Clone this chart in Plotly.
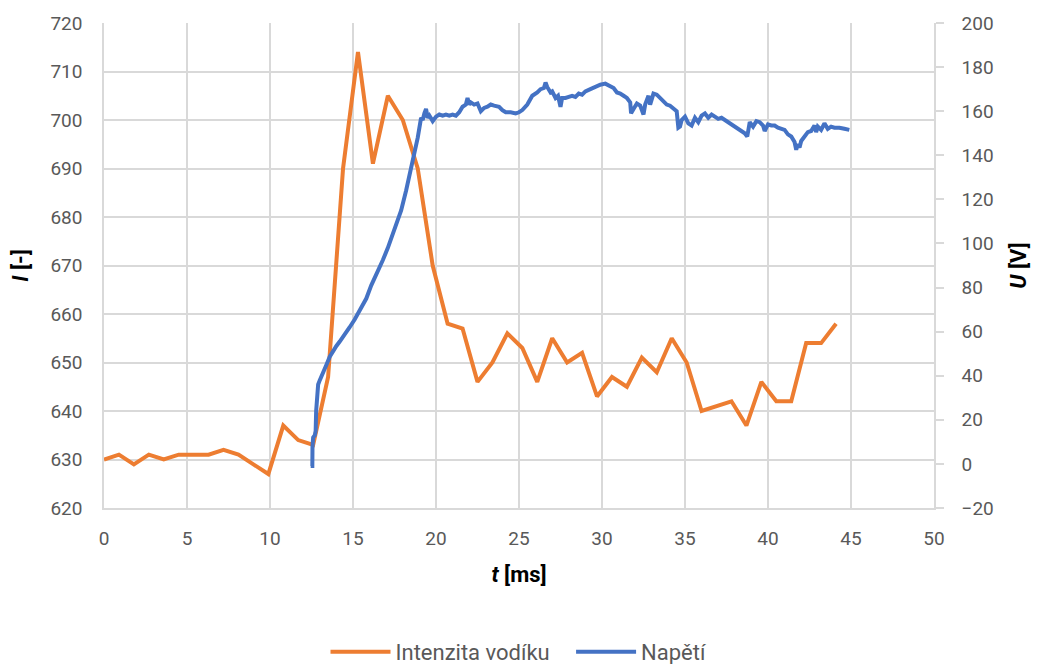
import plotly.graph_objects as go

# Intenzita vodíku (left axis)
t_I = [0.0, 0.9, 1.8, 2.7, 3.6, 4.5, 5.4, 6.3, 7.2, 8.1, 9.0, 9.9, 10.8, 11.7, 12.6,
       13.5, 14.4, 15.3, 16.2, 17.1, 18.0, 18.9, 19.8, 20.7, 21.6, 22.5, 23.4, 24.3,
       25.2, 26.1, 27.0, 27.9, 28.8, 29.7, 30.6, 31.5, 32.4, 33.3, 34.2, 35.1, 36.0,
       36.9, 37.8, 38.7, 39.6, 40.5, 41.4, 42.3, 43.2, 44.1]
I_vals = [630, 631, 629, 631, 630, 631, 631, 631, 632, 631, 629, 627, 637, 634, 633,
          647, 690, 714, 691, 705, 700, 690, 670, 658, 657, 646, 650, 656, 653, 646,
          655, 650, 652, 643, 647, 645, 651, 648, 655, 650, 640, 641, 642, 637, 646,
          642, 642, 654, 654, 658]

# Napětí (right axis)
t_U = [12.45, 12.55, 12.56, 12.6, 12.7, 12.75, 12.78, 12.85, 12.9, 13.0, 13.2, 13.4,
       13.6, 13.8, 14.0, 14.2, 14.5, 14.8, 15.1, 15.4, 15.8, 16.1, 16.5, 16.8, 17.1,
       17.4, 17.6, 17.9, 18.2, 18.45, 18.7, 18.9, 19.1, 19.2, 19.3, 19.4, 19.5, 19.6,
       19.8, 20.0, 20.2, 20.4, 20.6, 20.8, 21.0, 21.2, 21.4, 21.6, 21.8, 21.9, 22.0,
       22.1, 22.3, 22.5, 22.7, 22.9, 23.1, 23.3, 23.5, 23.8, 24.0, 24.2, 24.5, 24.8,
       25.0, 25.2, 25.5, 25.8, 26.1, 26.3, 26.5, 26.6, 26.7, 26.9, 27.0, 27.2, 27.35,
       27.5, 27.6, 27.8, 28.0, 28.2, 28.4, 28.6, 28.8, 29.0, 29.3, 29.6, 29.9, 30.2,
       30.5, 30.7, 30.9, 31.1, 31.3, 31.5, 31.7, 31.75, 31.9, 32.1, 32.3, 32.5, 32.6,
       32.8, 32.9, 33.1, 33.3, 33.5, 33.7, 33.9, 34.1, 34.3, 34.5, 34.6, 34.7, 34.8,
       35.0, 35.2, 35.4, 35.6, 35.8, 36.0, 36.2, 36.4, 36.6, 36.8, 37.0, 37.2, 37.5,
       37.8, 38.0, 38.3, 38.6, 38.75, 38.9, 39.1, 39.3, 39.5, 39.7, 39.8, 40.0, 40.2,
       40.4, 40.6, 40.8, 41.0, 41.2, 41.4, 41.6, 41.7, 41.8, 41.9, 42.0, 42.2, 42.4,
       42.6, 42.8, 42.9, 43.0, 43.2, 43.4, 43.6, 43.8, 44.0, 44.3, 44.6, 44.9]
U_vals = [-1, -1, 8, 12, 13, 15, 24, 33, 36, 38, 42, 45,
          48.6, 51.5, 53.5, 55.5, 58.5, 62, 65.5, 69.5, 75, 81, 87, 92.5, 98,
          104, 108, 115, 124, 132, 140, 148, 157, 156, 159, 161, 157, 158,
          155.5, 157.5, 158.5, 158, 158.5, 158, 158.5, 158, 159.5, 162, 163, 166, 163,
          164, 163, 163.5, 160, 161.5, 162, 163, 162.5, 162, 160.5, 159.5, 159.5, 159,
          159.5, 160.5, 163, 167, 168.5, 170, 170.5, 173, 171, 168.5, 169, 166, 167,
          162, 166, 166, 166.5, 167, 166.5, 168, 167.5, 169, 170, 171, 172, 172.5,
          171.5, 170.5, 168.5, 168, 167, 166, 164, 159, 161, 163.5, 162.5, 158.5, 163,
          167, 163, 168, 167.5, 166, 165, 163, 162.5, 161.5, 160, 152.5, 153, 156,
          157.5, 154.5, 153.5, 157, 155, 158, 159, 157, 158.5, 157.5, 156.5, 157, 155.5,
          153.5, 152.5, 151.5, 150, 148.5, 155, 153, 155.5, 155, 153.5, 151, 154, 153.5,
          153.5, 152.5, 152, 151.5, 149.5, 148.5, 146, 142.5, 145, 143.5, 146.5, 148.5, 150.5,
          151, 153.5, 150.5, 153, 151.5, 154.5, 152, 153, 152.5, 152.5, 152, 151.5]

x_ticks = list(range(0, 51, 5))

FONT = "Roboto, 'Open Sans', sans-serif"
GRAY = "#595959"
GRID = "#d9d9d9"

fig = go.Figure()
fig.add_trace(go.Scatter(x=t_I, y=I_vals, mode="lines", name="Intenzita vodíku&nbsp;&nbsp;&nbsp;",
                         line=dict(color="#ED7D31", width=4), yaxis="y"))
fig.add_trace(go.Scatter(x=t_U, y=U_vals, mode="lines", name="Napětí",
                         line=dict(color="#4472C4", width=4), yaxis="y2"))

fig.update_layout(
    width=1033, height=656,
    margin=dict(l=96, r=107, t=15, b=156, autoexpand=False),
    paper_bgcolor="white", plot_bgcolor="white",
    font=dict(family=FONT, size=19, color=GRAY),
    xaxis=dict(range=[0, 50], tickvals=x_ticks, showgrid=True, gridcolor=GRID, gridwidth=1.5,
               showline=True, linecolor=GRID, linewidth=1.5, zeroline=False, automargin=False,
               ticks="", ticklabelstandoff=12,
               title=dict(text="<b><i>t</i> [ms]</b>", font=dict(size=22, color="black"), standoff=18)),
    yaxis=dict(range=[620, 720], dtick=10, showgrid=True, gridcolor=GRID, gridwidth=1.5,
               showline=True, linecolor=GRID, linewidth=1.5, zeroline=False, automargin=False,
               ticks="", ticklabelstandoff=16,
               title=dict(text="<b><i>I</i> [-]</b>", font=dict(size=22, color="black"), standoff=18)),
    yaxis2=dict(range=[-20, 200], dtick=20, overlaying="y", side="right", showgrid=False,
                showline=True, linecolor=GRID, linewidth=1.5, zeroline=False, automargin=False,
                ticks="outside", ticklen=8, tickcolor=GRID, tickwidth=1.5, ticklabelstandoff=14,
                title=dict(text="<b><i>U</i> [V]</b>", font=dict(size=22, color="black"), standoff=18)),
    legend=dict(orientation="h", x=0.5, xanchor="center", y=12 / 656, yref="container",
                yanchor="middle", font=dict(size=22, color=GRAY), itemwidth=60),
    showlegend=True,
)

fig.write_html("out.html")
